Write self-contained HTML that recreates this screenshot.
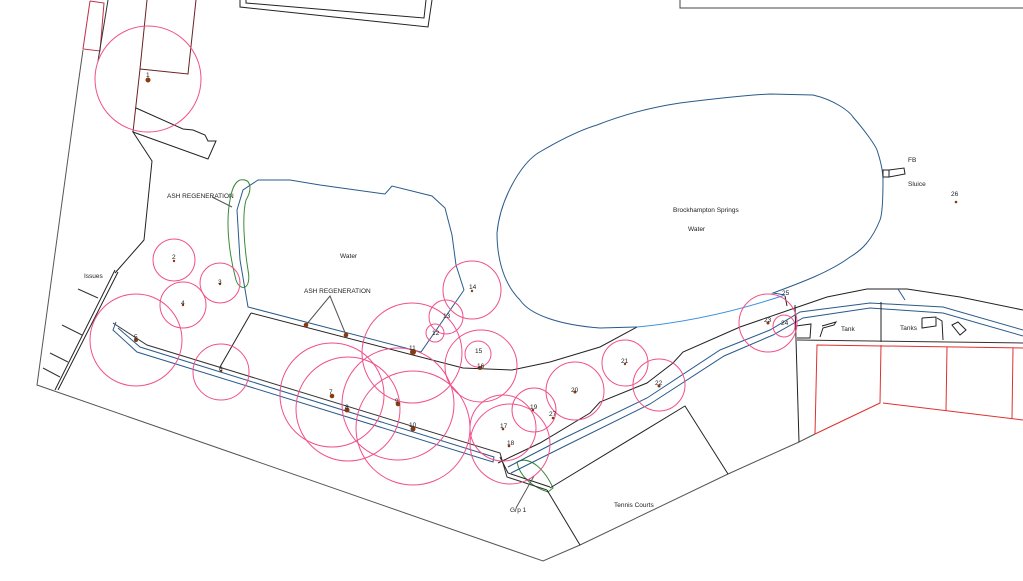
<!DOCTYPE html>
<html><head><meta charset="utf-8"><style>
html,body{margin:0;padding:0;background:#fff;}
svg{display:block}
text{font-family:"Liberation Sans",sans-serif;font-size:6.5px;fill:#222}
</style></head><body>
<svg width="1023" height="581" viewBox="0 0 1023 581" xmlns="http://www.w3.org/2000/svg">
<g fill="none" stroke-width="1">
<!-- top structures -->
<polyline points="90,1 104,3 100,51 83,49 90,1" stroke="#c0304a"/>
<polyline points="108,0 98,61" stroke="#333"/>
<polyline points="147,0 140,69 133,132" stroke="#6a2020"/>
<polyline points="140,69 188,74 196,0" stroke="#6a2020"/>
<polyline points="240,0 240,7 428,27 432,0" stroke="#222"/>
<polyline points="246,0 246,3 424,18 426,0" stroke="#222"/>
<polyline points="680,0 680,8 1023,8" stroke="#444"/>
<!-- outer boundary -->
<polyline points="83,50 78,85 37,385 543,561 580,545 728,474 799,442 815,434" stroke="#555"/>
<polyline points="136,108 183,129 193,130 205,135 208,141 216,141 208,159 133,132 152,161 144,240 115,273" stroke="#222"/>
<polyline points="115,270 55,390" stroke="#222"/>
<polyline points="118,272 58,390" stroke="#222"/>
<line x1="78" y1="289" x2="98" y2="298" stroke="#333"/>
<line x1="62" y1="325" x2="82" y2="335" stroke="#333"/>
<line x1="50" y1="353" x2="68" y2="362" stroke="#333"/>
<line x1="43" y1="368" x2="60" y2="377" stroke="#333"/>
<!-- small pond -->
<path d="M464,290 L456,265 L452,235 L445,208 L432,196 L392,186 L385,194 L320,185 L290,180 L258,180 L243,190 L237,210 L240,260 L248,307 L421,352 L464,290" stroke="#2a5a8a"/>
<polyline points="251,313 463,368 512,370 550,362 600,347 637,327" stroke="#222"/>
<polyline points="251,313 220,367" stroke="#222"/>
<!-- green ash -->
<path d="M240,180 C252,178 252,190 246,200 C242,215 244,245 248,270 C252,290 240,292 236,280 C228,250 226,220 230,200 C232,188 235,182 240,180 Z" stroke="#3a8a3a"/>
<path d="M517,462 C530,455 545,470 553,488 L548,492 C535,488 520,478 517,462 Z" stroke="#3a8a3a"/>
<!-- big pond -->
<path d="M520,300 C500,280 497,250 497,233 C500,200 520,165 538,153 C560,140 580,130 597,125 C630,112 660,106 680,103 C720,98 750,95 770,94 L813,95 C835,100 850,112 853,117 C866,132 875,145 877,150 C882,165 883,175 883,180 C883,200 882,215 880,220 C872,240 862,250 850,257 C830,272 800,283 773,293 L785,295" stroke="#2a5a8a"/>
<path d="M520,300 C530,315 560,325 600,328 L637,327" stroke="#2a5a8a"/>
<path d="M637,327 C690,322 740,310 785,295" stroke="#3a8ee0"/>
<rect x="883" y="170" width="6" height="7" stroke="#222"/>
<polygon points="889,170 904,168 905,174 889,177" stroke="#222"/>
<!-- lower left channel -->
<polyline points="113,323 147,345 500,453 507,477 547,490" stroke="#333"/>
<polyline points="116,322 113,330 137,352 493,462 494,457 140,347 118,328" stroke="#2a5a8a"/>
<polyline points="500,457 508,473 550,487" stroke="#222"/>
<!-- right channel -->
<polyline points="498,463 540,443 590,413 600,402 647,383 673,363 683,352 740,327 795,308 827,297 867,289 907,289 960,297 1023,310" stroke="#222"/>
<polyline points="508,467 560,440 647,398 720,350 770,330 800,312 870,303 943,307 1023,330" stroke="#2a5a8a"/>
<polyline points="511,473 565,446 650,404 724,356 773,335 803,318 870,308 943,313 1023,336" stroke="#2a5a8a"/>
<line x1="898" y1="289" x2="905" y2="300" stroke="#2a5a8a"/>
<polyline points="795,305 799,442" stroke="#222"/>
<polyline points="881,302 881,342" stroke="#222"/>
<polyline points="797,338 810,338 811,324 796,326" stroke="#222"/>
<polyline points="820,337 823,328 834,325 836,322 822,326" stroke="#222"/>
<polyline points="797,340 1023,343" stroke="#333"/>
<polyline points="922,318 936,317 936,326 922,328 922,318" stroke="#222"/>
<polyline points="937,318 942,321 943,340" stroke="#222"/>
<polygon points="952,325 958,322 966,330 960,335" stroke="#222"/>
<!-- red parcels -->
<polyline points="815,434 817,345 1023,348" stroke="#e03030"/>
<polyline points="881,345 880,403 815,434" stroke="#e03030"/>
<polyline points="883,403 1023,420" stroke="#e03030"/>
<line x1="947" y1="347" x2="946" y2="411" stroke="#e03030"/>
<line x1="1013" y1="348" x2="1012" y2="419" stroke="#e03030"/>
<!-- tennis -->
<polyline points="550,488 685,406 728,474" stroke="#222"/>
<polyline points="547,490 580,545" stroke="#222"/>
<!-- leaders -->
<line x1="212" y1="197" x2="232" y2="207" stroke="#555"/>
<polyline points="306,325 330,296 346,335" stroke="#555"/>
<line x1="516" y1="508" x2="534" y2="476" stroke="#555"/>
<line x1="785" y1="296" x2="787" y2="306" stroke="#222"/>
<!-- tree crowns -->
<g stroke="#f0508a">
<circle cx="148" cy="79" r="53"/>
<circle cx="174" cy="260" r="21"/>
<circle cx="220" cy="283" r="20"/>
<circle cx="183" cy="305" r="23"/>
<circle cx="136" cy="340" r="46"/>
<circle cx="221" cy="372" r="28"/>
<circle cx="332" cy="395" r="52"/>
<circle cx="348" cy="409" r="52"/>
<circle cx="398" cy="404" r="56"/>
<circle cx="413" cy="428" r="57"/>
<circle cx="412" cy="353" r="50"/>
<circle cx="435" cy="333" r="9"/>
<circle cx="446" cy="317" r="17"/>
<circle cx="472" cy="290" r="29"/>
<circle cx="478" cy="354" r="13"/>
<circle cx="481" cy="366" r="36"/>
<circle cx="503" cy="428" r="33"/>
<circle cx="510" cy="444" r="40"/>
<circle cx="534" cy="410" r="22"/>
<circle cx="575" cy="391" r="29"/>
<circle cx="625" cy="363" r="23"/>
<circle cx="659" cy="385" r="26"/>
<circle cx="768" cy="323" r="29"/>
<circle cx="784" cy="326" r="11"/>
</g>
</g>
<!-- tree trunks -->
<g fill="#8a3a10">
<circle cx="148" cy="80" r="2.5"/><circle cx="174" cy="261" r="1.2"/><circle cx="220" cy="284" r="1.2"/>
<circle cx="183" cy="305" r="1.2"/><circle cx="136" cy="340" r="2"/><circle cx="221" cy="371" r="1.3"/>
<circle cx="332" cy="396" r="2.3"/><circle cx="347" cy="410" r="2.5"/><circle cx="398" cy="404" r="2.3"/>
<circle cx="413" cy="429" r="2.5"/><circle cx="413" cy="352" r="3"/><circle cx="306" cy="325" r="2.3"/>
<circle cx="346" cy="335" r="2.3"/><circle cx="472" cy="291" r="1.2"/><circle cx="480" cy="368" r="2"/>
<circle cx="503" cy="429" r="1.3"/><circle cx="509" cy="446" r="1.3"/><circle cx="533" cy="410" r="1.2"/>
<circle cx="553" cy="418" r="1.3"/><circle cx="575" cy="392" r="1.5"/><circle cx="625" cy="364" r="1.2"/>
<circle cx="659" cy="386" r="1.5"/><circle cx="768" cy="323" r="1.5"/><circle cx="956" cy="202" r="1.3"/>
</g>
<g>
<text x="146" y="77">1</text><text x="172" y="259">2</text><text x="218" y="284">3</text><text x="181" y="305">4</text>
<text x="134" y="339">5</text><text x="219" y="371">6</text><text x="329" y="394">7</text><text x="345" y="409">8</text>
<text x="395" y="403">9</text><text x="409" y="427">10</text><text x="409" y="350">11</text><text x="432" y="335">12</text>
<text x="443" y="318">13</text><text x="469" y="289">14</text><text x="475" y="353">15</text><text x="477" y="368">16</text>
<text x="500" y="428">17</text><text x="507" y="445">18</text><text x="530" y="409">19</text><text x="571" y="392">20</text>
<text x="621" y="363">21</text><text x="655" y="385">22</text><text x="764" y="322">23</text><text x="781" y="325">24</text>
<text x="782" y="295">25</text><text x="951" y="196">26</text><text x="549" y="416">27</text>
<text x="167" y="198">ASH REGENERATION</text>
<text x="84" y="278">Issues</text>
<text x="340" y="258">Water</text>
<text x="304" y="293">ASH REGENERATION</text>
<text x="673" y="212">Brockhampton Springs</text>
<text x="688" y="231">Water</text>
<text x="908" y="162">FB</text>
<text x="908" y="186">Sluice</text>
<text x="841" y="331">Tank</text>
<text x="900" y="330">Tanks</text>
<text x="614" y="507">Tennis Courts</text>
<text x="510" y="512">Grp 1</text>
</g>
</svg>
</body></html>
